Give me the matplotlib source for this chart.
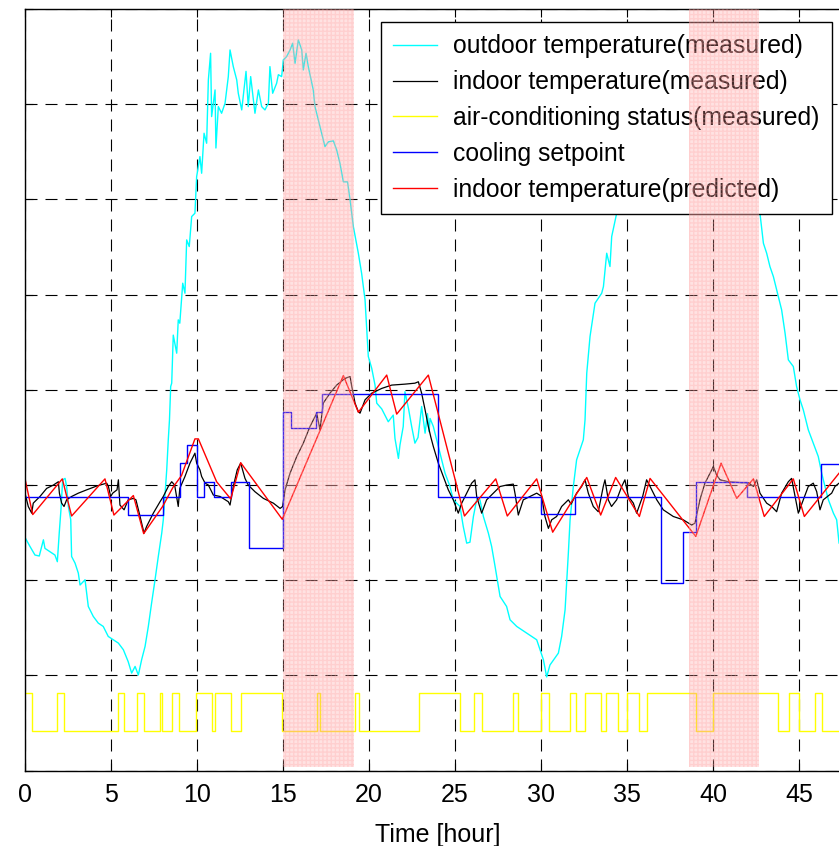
import matplotlib
matplotlib.use("Agg")
import matplotlib.pyplot as plt
import numpy as np

plt.rcParams['font.family'] = ['Liberation Sans', 'DejaVu Sans']

# ---------------- data ----------------
# outdoor temperature (measured)
out_t = [0.0, 0.29, 0.58, 0.83, 1.07, 1.16, 1.45, 1.74, 1.88, 1.99, 2.09, 2.19, 2.33, 2.42, 2.52,
         2.66, 2.71, 2.91, 3.10, 3.20, 3.49, 3.68, 3.97, 4.26, 4.55, 4.84, 5.13, 5.43, 5.72, 6.00,
         6.20, 6.40, 6.59, 6.78, 6.98, 7.17, 7.36, 7.56, 7.75, 7.95, 8.04, 8.24, 8.33, 8.40, 8.47,
         8.53, 8.62, 8.82, 8.91, 9.00, 9.17, 9.30, 9.40, 9.55, 9.69, 9.88, 9.98, 10.17, 10.27, 10.41,
         10.56, 10.66, 10.79, 10.85, 11.05, 11.10, 11.24, 11.43, 11.63, 11.82, 11.92, 12.11, 12.31,
         12.40, 12.60, 12.85, 12.98, 13.12, 13.37, 13.57, 13.76, 13.95, 14.15, 14.24, 14.40, 14.63,
         14.73, 14.92, 15.02, 15.21, 15.41, 15.56, 15.70, 15.89, 16.09, 16.18, 16.34, 16.47, 16.76,
         16.86, 17.25, 17.44, 17.64, 17.93, 18.12, 18.31, 18.51, 18.75, 18.90, 19.09, 19.38, 19.57,
         19.77, 19.87, 19.96, 20.16, 20.35, 20.45, 20.74, 21.12, 21.41, 21.51, 21.71, 21.80, 21.99,
         22.09, 22.30, 22.48, 22.67, 22.85, 23.06, 23.26, 23.40, 23.49, 23.55, 23.74, 24.03, 24.22,
         24.42, 24.71, 24.90, 25.29, 25.48, 25.68, 25.87, 26.07, 26.26, 26.45, 26.65, 26.94, 27.13,
         27.33, 27.62, 28.00, 28.20, 28.59, 29.17, 29.75, 30.14, 30.33, 30.52, 31.01, 31.20, 31.40,
         31.49, 31.59, 31.69, 31.88, 32.07, 32.46, 32.56, 32.66, 32.85, 33.14, 33.53, 33.63, 33.82,
         34.01, 34.11, 34.40, 34.55, 35.0, 35.5, 36.0, 37.0, 38.0, 39.0, 40.0, 41.0, 42.0, 42.5,
         42.73, 42.93, 43.12, 43.31, 43.51, 43.70, 43.99, 44.19, 44.38, 44.67, 44.86, 45.06, 45.25,
         45.54, 45.83, 46.12, 46.32, 46.51, 46.71, 47.00, 47.19, 47.33, 48.0]
out_v = [24.90, 24.71, 24.53, 24.51, 24.85, 24.67, 24.60, 24.53, 24.39, 24.99, 25.48, 26.11, 26.14, 25.97, 25.55,
         25.27, 24.50, 24.36, 24.15, 23.90, 24.01, 23.45, 23.24, 23.10, 23.03, 22.82, 22.75, 22.68, 22.54, 22.29,
         22.05, 22.19, 22.01, 22.33, 22.61, 23.03, 23.52, 24.01, 24.50, 24.99, 25.27, 26.32, 26.95, 27.37, 28.07,
         28.14, 29.15, 28.77, 29.47, 29.40, 30.24, 30.03, 31.15, 31.01, 31.64, 31.71, 32.48, 32.90, 32.55, 33.39,
         33.18, 34.51, 35.07, 33.74, 34.30, 33.08, 33.95, 33.81, 34.02, 34.58, 35.14, 34.79, 34.51,
         34.23, 33.88, 34.69, 33.95, 34.58, 33.81, 34.30, 33.95, 33.88, 34.02, 34.79, 34.23, 34.44,
         34.62, 34.58, 34.93, 35.00, 35.14, 35.28, 34.86, 35.35, 35.14, 34.72, 35.07, 34.79, 34.30,
         33.95, 33.39, 33.11, 33.21, 33.23, 33.04, 32.76, 32.37, 32.37, 31.99, 31.43, 30.87, 30.45,
         29.89, 29.26, 28.70, 28.45, 28.10, 27.72, 27.60, 27.33, 27.47, 26.98, 26.56, 26.84, 27.23,
         27.96, 27.60, 27.23, 26.88, 27.00, 27.65, 27.09, 27.50, 27.12, 27.40, 27.23, 26.81, 26.53,
         26.25, 25.97, 25.69, 25.55, 25.13, 24.78, 24.80, 25.34, 25.69, 25.69, 25.34, 24.99, 24.71,
         24.29, 23.66, 23.45, 23.17, 23.03, 22.89, 22.75, 22.33, 21.97, 22.22, 22.47, 22.82, 23.38,
         23.94, 24.57, 25.27, 25.97, 26.53, 26.95, 27.37, 28.35, 29.12, 29.82, 30.03, 30.17, 30.87,
         30.59, 31.22, 31.71, 31.85, 32.8, 33.5, 34.0, 34.5, 34.8, 35.0, 35.1, 34.7, 33.5, 32.4,
         31.71, 31.08, 30.87, 30.59, 30.38, 30.10, 29.68, 29.19, 28.63, 28.49, 28.07, 27.79, 27.58,
         27.16, 26.88, 26.60, 26.25, 25.97, 25.69, 25.41, 25.27, 24.78, 24.50]

# indoor temperature (measured)
in_t = [0.00, 0.19, 0.39, 0.48, 0.87, 1.26, 1.65, 1.94, 2.00, 2.13, 2.27, 2.42, 2.71, 3.10, 3.59,
        4.17, 4.75, 4.85, 4.98, 5.10, 5.35, 5.43, 5.52, 5.76, 6.00, 6.30, 6.45, 6.69, 6.92, 7.07,
        7.46, 7.85, 8.04, 8.33, 8.53, 8.70, 8.91, 9.00, 9.30, 9.59, 9.88, 9.98, 10.17, 10.27, 10.47,
        10.66, 10.95, 11.34, 11.82, 11.92, 12.11, 12.34, 12.54, 12.79, 12.98, 13.37, 13.86, 14.44,
        14.83, 14.98, 15.12, 15.41, 15.80, 16.18, 16.57, 16.96, 17.15, 17.34, 17.73, 18.12, 18.60,
        18.90, 19.00, 19.19, 19.38, 19.48, 19.77, 20.16, 20.74, 21.32, 22.09, 22.67, 22.87, 23.06,
        23.26, 23.45, 23.60, 23.74, 24.03, 24.32, 24.61, 24.90, 25.19, 25.39, 25.68, 25.97, 26.16,
        26.26, 26.55, 26.84, 27.23, 27.62, 28.00, 28.39, 28.50, 28.68, 28.97, 29.36, 29.75, 30.04,
        30.23, 30.43, 30.62, 30.91, 31.20, 31.59, 31.75, 32.07, 32.36, 32.56, 32.75, 33.04, 33.33,
        33.62, 33.72, 33.91, 34.10, 34.40, 34.69, 34.88, 35.08, 35.37, 35.56, 35.91, 36.14, 36.30,
        36.73, 37.11, 37.69, 38.27, 38.76, 38.95, 39.24, 39.53, 39.83, 40.02, 40.21, 40.41, 40.89,
        41.67, 42.05, 42.35, 42.54, 42.73, 43.12, 43.41, 43.70, 43.99, 44.38, 44.57, 44.77, 44.96,
        45.25, 45.54, 45.83, 46.03, 46.22, 46.41, 46.90, 47.09, 47.33, 48.0]
in_v = [25.83, 25.55, 25.41, 25.62, 25.76, 25.93, 26.00, 26.07, 25.83, 25.62, 25.55, 25.69, 25.76, 25.83, 25.90,
        25.98, 26.04, 25.97, 25.76, 25.83, 25.90, 26.11, 25.58, 25.48, 25.69, 25.72, 25.69, 25.34, 24.99, 25.13,
        25.41, 25.65, 25.76, 25.97, 26.07, 26.00, 25.55, 25.93, 26.18, 26.46, 26.67, 26.46, 26.32, 26.18, 26.04,
        26.00, 25.79, 25.76, 25.65, 25.58, 25.97, 26.32, 26.46, 26.14, 26.00, 25.86, 25.72, 25.62,
        25.51, 25.55, 25.90, 26.25, 26.60, 26.88, 27.23, 27.51, 27.16, 27.72, 27.93, 28.10, 28.24,
        28.28, 28.07, 27.72, 27.54, 27.51, 27.79, 27.93, 28.03, 28.10, 28.12, 28.14, 28.17, 27.93,
        27.58, 27.23, 27.00, 26.81, 26.46, 26.18, 25.90, 25.69, 25.41, 25.62, 25.83, 26.04, 26.11,
        25.76, 25.41, 25.69, 25.83, 25.97, 26.00, 26.02, 25.80, 25.37, 25.69, 25.76, 25.83, 25.76,
        25.34, 25.09, 25.27, 25.34, 25.55, 25.69, 25.60, 25.83, 25.97, 26.11, 25.83, 25.55, 25.44,
        25.97, 26.11, 25.69, 25.55, 25.69, 25.97, 26.11, 25.76, 25.62, 25.41, 25.76, 26.11, 26.00,
        25.69, 25.48, 25.34, 25.27, 25.16, 25.20, 25.69, 26.04, 26.25, 26.39, 26.21, 26.11, 26.07,
        26.05, 26.05, 25.97, 26.11, 25.83, 25.62, 25.55, 25.44, 25.83, 26.07, 26.14, 25.76, 25.41,
        25.69, 25.97, 26.04, 25.86, 25.48, 25.69, 25.83, 25.97, 26.04, 26.10]

# air-conditioning status (measured): switching times and on/off state
ac_t = [0, 0.41, 1.84, 2.29, 5.41, 5.74, 6.49, 6.92, 7.83, 7.99,
        8.53, 8.95, 9.95, 10.85, 11.05, 11.96, 12.54, 14.95, 16.96, 17.15,
        19.20, 19.42, 22.93, 25.27, 26.12, 26.59, 28.35, 28.68, 29.99, 30.47,
        31.69, 32.02, 32.56, 33.47, 33.78, 34.50, 34.98, 35.70, 36.14, 39.01,
        39.98, 43.76, 44.44, 45.02, 45.93, 46.32, 48.0]
ac_s = [1, 0, 1, 0, 1, 0, 1, 0, 1, 0,
        1, 0, 1, 0, 1, 0, 1, 0, 1, 0,
        1, 0, 1, 0, 1, 0, 1, 0, 1, 0,
        1, 0, 1, 0, 1, 0, 1, 0, 1, 0,
        1, 0, 1, 0, 1, 0, 0]

# cooling setpoint (step changes)
sp_t = [0, 6, 8, 9, 9.4, 10, 10.41, 11, 12, 13, 15, 15.47, 16.9, 17.29, 24, 30, 32, 37, 38.24, 39, 42, 46.28, 48]
sp_v = [25.74, 25.37, 25.74, 26.46, 26.84, 25.74, 26.07, 25.74, 26.07, 24.68, 27.53, 27.19, 27.53, 27.91,
        25.75, 25.39, 25.75, 23.94, 25.01, 26.07, 25.75, 26.45, 26.45]

# indoor temperature (predicted)
pr_t = [0.00, 0.45, 2.17, 2.71, 4.65, 5.17, 6.30, 6.90, 8.00, 8.60, 9.10, 9.88, 10.08, 11.14, 11.96,
        12.54, 14.96, 18.51, 19.38, 21.03, 21.61, 23.45, 25.55, 27.37, 28.04, 29.75, 30.68, 32.66,
        33.47, 34.34, 35.72, 36.34, 39.00, 40.47, 41.38, 42.35, 42.98, 44.67, 45.31, 47.33, 48.0]
pr_v = [26.13, 25.38, 26.13, 25.35, 26.13, 25.37, 25.78, 24.98, 25.55, 25.95, 26.20, 26.97, 26.97, 26.07, 25.71,
        26.47, 25.28, 28.30, 27.53, 28.31, 27.49, 28.31, 25.35, 26.13, 25.35, 26.13, 25.01, 26.16,
        25.37, 26.16, 25.34, 26.14, 24.92, 26.46, 25.72, 26.13, 25.34, 26.13, 25.34, 26.25, 26.50]

# highlighted periods [start, end] in hours
shade_periods = [(15.0, 19.15), (38.62, 42.69)]

labels = ['outdoor temperature(measured)', 'indoor temperature(measured)',
          'air-conditioning status(measured)', 'cooling setpoint',
          'indoor temperature(predicted)']
xticks = [0, 5, 10, 15, 20, 25, 30, 35, 40, 45]

# ---------------- plot ----------------
W, H = 839, 846
fig = plt.figure(figsize=(W / 100, H / 100), dpi=100)
x0, x1 = 25, 25 + 17.2 * 48
ytop, ybot = 9, 770.7
ax = fig.add_axes([x0 / W, 1 - ybot / H, (x1 - x0) / W, (ybot - ytop) / H])

ac_level = [20.83 + 0.8 * s for s in ac_s]
lw = 1.0
l1, = ax.plot(out_t, out_v, color='#00ffff', lw=lw)
l2, = ax.plot(in_t, in_v, color='black', lw=0.9)
l3, = ax.plot(ac_t, ac_level, color='#ffff00', lw=lw, drawstyle='steps-post')
l4, = ax.plot(sp_t, sp_v, color='#0000ff', lw=lw, drawstyle='steps-post')
l5, = ax.plot(pr_t, pr_v, color='#ff0000', lw=lw)

ax.set_xlim(0, 48)
ax.set_ylim(20, 36)
ax.set_xticks(xticks)
ax.set_yticks(np.arange(20, 37, 2))
ax.tick_params(direction='in', top=True, right=True, length=6, width=0.8,
               labelleft=False, labelsize=18, pad=8.5)
ax.grid(True, color='black', linestyle=(0, (10.8, 7.2)), linewidth=0.8)
for s in ax.spines.values():
    s.set_linewidth(1.0)
ax.set_xlabel('Time [hour]', fontsize=18, labelpad=12)

leg = ax.legend([l1, l2, l3, l4, l5], labels, loc='upper left',
                bbox_to_anchor=(381 / W, 1 - 22 / H), bbox_transform=fig.transFigure,
                fontsize=17.8, frameon=True, fancybox=False, borderaxespad=0,
                handlelength=1.78, handletextpad=0.65, borderpad=0.5, labelspacing=0.48)
leg.get_frame().set_edgecolor('black')
leg.get_frame().set_linewidth(1.0)
leg.get_frame().set_alpha(1)

for a, b in shade_periods:
    ax.axvspan(a, b, ymin=0.005, ymax=1, facecolor=(1, 0.6, 0.6, 0.28),
               edgecolor=(1, 0.65, 0.65, 0.3), hatch='++++', linewidth=0, zorder=10)

fig.savefig('out.png', dpi=100)
